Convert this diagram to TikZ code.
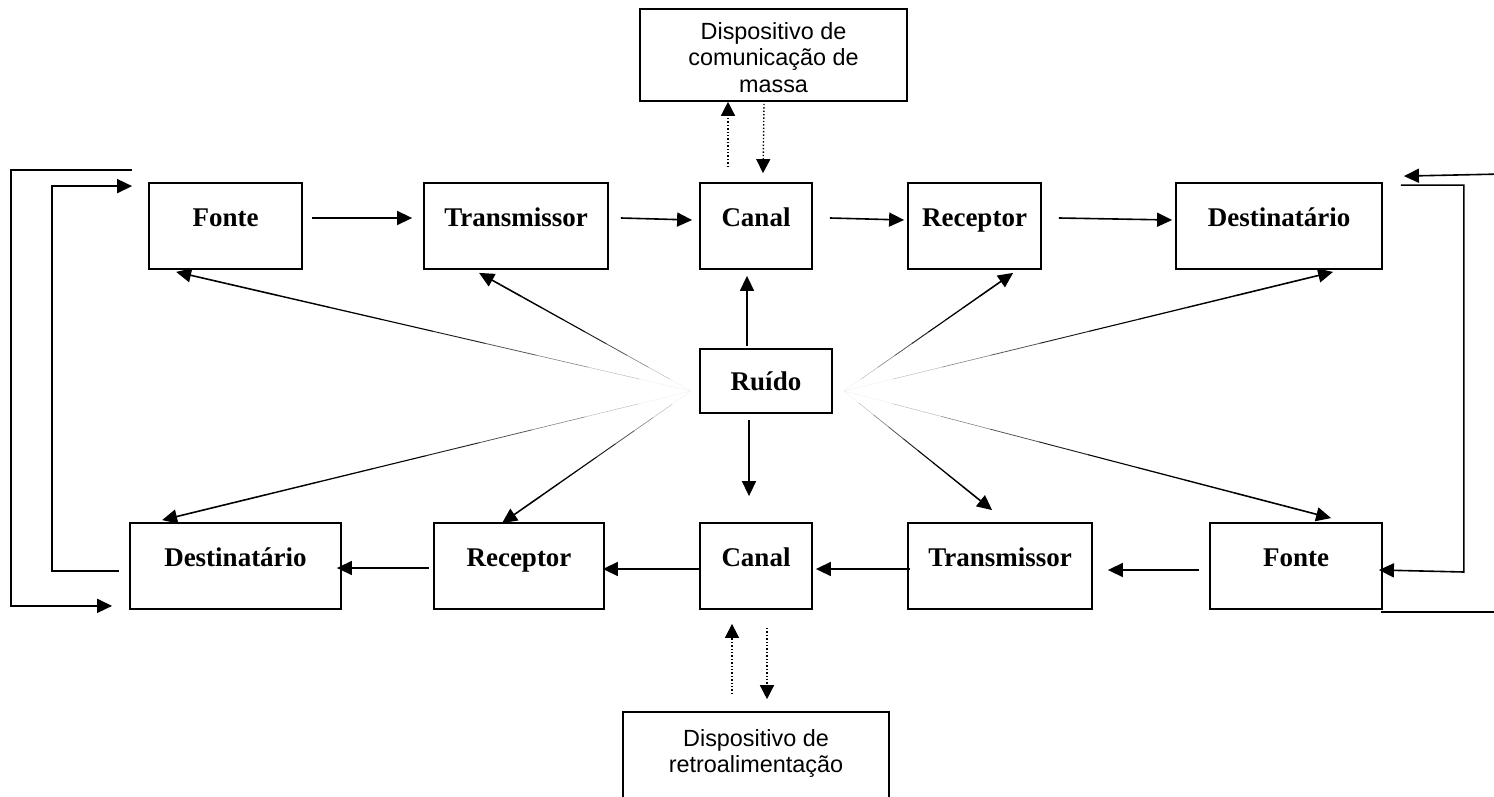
\documentclass[tikz,border=0pt]{standalone}
\usepackage{fontspec}
\setmainfont{Liberation Serif}
\newfontfamily\devfont{Liberation Sans}
\usetikzlibrary{arrows.meta, calc, positioning}

% noise ray: fades in from the noise source, ends in an arrow
\newcommand{\noiseray}[2]{%
  \foreach \k in {0,...,8}{%
    \pgfmathsetmacro{\tone}{min(100,8+20*\k)}%
    \pgfmathsetmacro{\rayw}{0.15+0.08*\k}%
    \draw[draw=black!\tone, line width=\rayw pt] ($(#1)!\k/10!(#2)$) -- ($(#1)!\k/10+0.1!(#2)$);
  }
  \draw[ray] ($(#1)!0.9!(#2)$) -- (#2);
}

\begin{document}
\begin{tikzpicture}[
    x=0.5pt, y=-0.5pt,
    box/.style={rectangle, draw, line width=0.9pt, inner sep=0pt, font=\bfseries\fontsize{13.5}{16}\selectfont, text height=21.5pt, text depth=21.5pt},
    noisebox/.style={rectangle, draw, line width=0.9pt, inner sep=0pt, minimum width=66pt, minimum height=32pt, font=\bfseries\fontsize{13.5}{16}\selectfont},
    devbox/.style={rectangle, draw, line width=0.8pt, inner sep=0pt},
    devtext/.style={inner sep=0pt, align=center, font=\devfont\fontsize{11.7}{13.2}\selectfont},
    arrow/.style={-{Triangle[length=7.5pt, width=7pt]}, line width=0.8pt},
    ray/.style={-{Triangle[length=7.5pt, width=7pt]}, line width=0.8pt},
    line/.style={line width=0.8pt},
    dots/.style={-{Triangle[length=7pt, width=7pt]}, line width=0.7pt, densely dotted}
]
\useasboundingbox (0,0) rectangle (1494,797);
\clip (0,0) rectangle (1494,797);

% top row
\node[box, minimum width=76.5pt] (fonteT) at (225.5,226) {Fonte};
\node[box, minimum width=92pt] (transT) at (516,226) {Transmissor};
\node[box, minimum width=56pt] (canalT) at (756,226) {Canal};
\node[box, minimum width=66.5pt] (recT) at (974.5,226) {Receptor};
\node[box, minimum width=103pt] (destT) at (1279,226) {Destinatário};

% bottom row
\node[box, minimum width=105.5pt] (destB) at (235.5,566) {Destinatário};
\node[box, minimum width=85pt] (recB) at (519,566) {Receptor};
\node[box, minimum width=56pt] (canalB) at (756,566) {Canal};
\node[box, minimum width=92pt] (transB) at (1000,566) {Transmissor};
\node[box, minimum width=86pt] (fonteB) at (1296,566) {Fonte};

\node[noisebox] (ruido) at (766,381) {Ruído};

\node[devbox, minimum width=133.5pt, minimum height=46pt] (massa) at (773.5,55) {};
\node[devtext, anchor=north] (massatext) at ($(massa.north)+(0,14)$) {Dispositivo de\\comunicação de\\massa};
\node[devbox, minimum width=133pt, minimum height=44pt] (retro) at (756,756) {};
\node[devtext, anchor=north] (retrotext) at ($(retro.north)+(0,18)$) {Dispositivo de\\retroalimentação};

% message flow
\draw[arrow] ($(fonteT.east)+(9,-8)$) -- ($(transT.west)+(-11,-8)$);
\draw[arrow] ($(transT.east)+(12,-8)$) -- ($(canalT.west)+(-7,-6)$);
\draw[arrow] ($(canalT.east)+(17,-8)$) -- ($(recT.west)+(-3,-6)$);
\draw[arrow] ($(recT.east)+(17,-8)$) -- ($(destT.west)+(-3,-6)$);

\draw[arrow] ($(fonteB.west)+(-10,4)$) -- ($(transB.east)+(15,4)$);
\draw[arrow] ($(transB.west)+(3,3)$) -- ($(canalB.east)+(3,3)$);
\draw[arrow] ($(canalB.west)+(0,3)$) -- ($(recB.east)+(-2,3)$);
\draw[arrow] ($(recB.west)+(-4,2)$) -- ($(destB.east)+(-5,2)$);

% noise
\draw[arrow] ($(ruido.north)+(-19,-2)$) -- ($(canalT.south)+(-9,6)$);
\draw[arrow] ($(ruido.south)+(-17,6)$) -- ($(canalB.north)+(-7,-26)$);

\coordinate (L) at ($(ruido.west)+(-8,10)$);
\coordinate (R) at ($(ruido.east)+(11,10)$);
\noiseray{L}{$(fonteT.south west)+(28,2)$}
\noiseray{L}{$(transT.south west)+(56,3)$}
\noiseray{L}{$(destB.north west)+(33,-2)$}
\noiseray{L}{$(recB.north west)+(69,1)$}
\noiseray{R}{$(recT.south west)+(106,3)$}
\noiseray{R}{$(destT.south west)+(158,2)$}
\noiseray{R}{$(transB.north west)+(85,-12)$}
\noiseray{R}{$(fonteB.north west)+(122,-4)$}

% devices
\draw[dots] ($(canalT.north)+(-28,-15)$) -- ($(massa.south)+(-45.5,0)$);
\draw[dots] ($(massa.south)+(-9.5,2)$) -- ($(canalT.north)+(7,-9)$);
\draw[dots] ($(retro.north)+(-24,-17)$) -- ($(canalB.south)+(-24,14)$);
\draw[dots] ($(canalB.south)+(11,18)$) -- ($(retro.north)+(11,-12)$);

% feedback, left
\draw[arrow] ($(fonteT.north west)+(-16,-12)$) -| ($(destB.south west)+(-118,-4)$) -- ($(destB.south west)+(-17,-4)$);
\draw[arrow] ($(destB.west)+(-10,5)$) -| ($(fonteT.north west)+(-96,4)$) -- ($(fonteT.north west)+(-16,4)$);

% feedback, right
\draw[arrow] ($(destT.north east)+(115,-8)$) -- ($(destT.north east)+(21,-6)$);
\draw[arrow] ($(destT.north east)+(18,3)$) -| ($(fonteB.east)+(81,6)$) -- ($(fonteB.east)+(-4,4)$);
\draw[line] ($(fonteB.south east)+(-2,2)$) -- ($(fonteB.south east)+(115,2)$);

\end{tikzpicture}
\end{document}
